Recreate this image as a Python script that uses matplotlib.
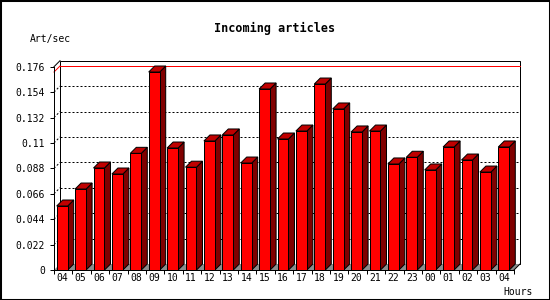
import matplotlib
matplotlib.use("Agg")
import matplotlib.pyplot as plt
from matplotlib.patches import Polygon, Rectangle

# hourly incoming article rate
hours = ["04", "05", "06", "07", "08", "09", "10", "11", "12", "13", "14", "15",
         "16", "17", "18", "19", "20", "21", "22", "23", "00", "01", "02", "03", "04"]
rate = [0.0554, 0.0701, 0.0883, 0.0831, 0.1010, 0.1714, 0.1056, 0.0890, 0.1117,
        0.1169, 0.0926, 0.1567, 0.1134, 0.1203, 0.1610, 0.1394, 0.1195, 0.1203,
        0.0918, 0.0976, 0.0866, 0.1065, 0.0952, 0.0848, 0.1065]
yticks = [0, 0.022, 0.044, 0.066, 0.088, 0.11, 0.132, 0.154, 0.176]
ylabels = ["0", "0.022", "0.044", "0.066", "0.088", "0.11", "0.132", "0.154", "0.176"]

W, H = 550, 300
fig = plt.figure(figsize=(W / 100, H / 100), dpi=100)
plt.rcParams['font.family'] = ['DejaVu Sans Mono']
px = 0.72  # one pixel in points

ax_w, ax_h = 460.0, 203.3
ax = fig.add_axes([54 / W, 30 / H, ax_w / W, ax_h / H])
n = len(rate)
ymax = yticks[-1]
ax.set_xlim(0, n)
ax.set_ylim(0, ymax)

# 3d depth in data units (6 px right, 6 px up)
dx = 6 / (ax_w / n)
dy = 6 / ax_h * ymax

# back wall
ax.add_patch(Polygon([(dx, dy), (dx, ymax + dy), (n + dx, ymax + dy), (n + dx, dy)],
                     closed=True, facecolor="white", edgecolor="black", lw=px,
                     clip_on=False, zorder=1))
ax.plot([0, dx], [ymax, ymax + dy], color="black", lw=px, clip_on=False, zorder=1)
for v in yticks[1:-1]:
    ax.plot([dx, n + dx], [v + dy, v + dy], color="black", lw=px,
            ls=(0, (2, 2)), clip_on=False, zorder=1.5)
    ax.plot([0, dx], [v, v + dy], color="black", lw=px,
            ls=(0, (2, 2)), clip_on=False, zorder=1.5)

# max line
vmax = max(rate)
ax.plot([dx, n + dx], [vmax + dy, vmax + dy], color="red", lw=px, clip_on=False, zorder=1.6)
ax.plot([0, dx], [vmax, vmax + dy], color="red", lw=px, clip_on=False, zorder=1.6)

# floor
ax.add_patch(Polygon([(0, 0), (n, 0), (n + dx, dy), (dx, dy)], closed=True,
                     facecolor="#8c8c8c", edgecolor="none", clip_on=False, zorder=2))
ax.plot([n, n + dx], [0, dy], color="black", lw=px, clip_on=False, zorder=2.1)

# bars
off, bw = 0.147, 0.597
xs = [i + off for i in range(n)]
ax.bar(xs, rate, width=bw, align="edge", color="#ff0000", edgecolor="black",
       linewidth=px, zorder=4)
for x0, v in zip(xs, rate):
    x1 = x0 + bw
    ax.add_patch(Polygon([(x1, 0), (x1 + dx, dy), (x1 + dx, v + dy), (x1, v)],
                         closed=True, facecolor="#800000", edgecolor="black",
                         lw=px, clip_on=False, zorder=3))
    ax.add_patch(Polygon([(x0, v), (x0 + dx, v + dy), (x1 + dx, v + dy), (x1, v)],
                         closed=True, facecolor="#c00000", edgecolor="black",
                         lw=px, clip_on=False, zorder=3))

# axes
for s in ["top", "right"]:
    ax.spines[s].set_visible(False)
for s in ["left", "bottom"]:
    ax.spines[s].set_linewidth(px)
    ax.spines[s].set_zorder(5)
ax.patch.set_visible(False)

ax.set_yticks(yticks)
ax.set_yticklabels(ylabels)
ax.tick_params(axis="y", length=4 * px, width=px, pad=3.5, labelsize=7)
ax.set_xticks(range(n + 1))
ax.set_xticklabels([])
ax.tick_params(axis="x", which="major", length=4 * px, width=px)
ax.set_xticks([i + 0.45 for i in range(n)], minor=True)
ax.set_xticklabels(hours, minor=True)
ax.tick_params(axis="x", which="minor", length=0, pad=2, labelsize=7)

fig.text(0.5, 1 - 28 / H, "Incoming articles", ha="center", va="center",
         fontsize=8.5, fontweight="bold")
fig.text(30 / W, 1 - 38.6 / H, "Art/sec", ha="left", va="center", fontsize=7)
fig.text(533 / W, 1 - 291.7 / H, "Hours", ha="right", va="center", fontsize=7)

fig.patches.append(Rectangle((0, 0), 1, 1, transform=fig.transFigure, fill=False,
                             edgecolor="black", lw=2.2))

fig.savefig("out.png", dpi=100)
